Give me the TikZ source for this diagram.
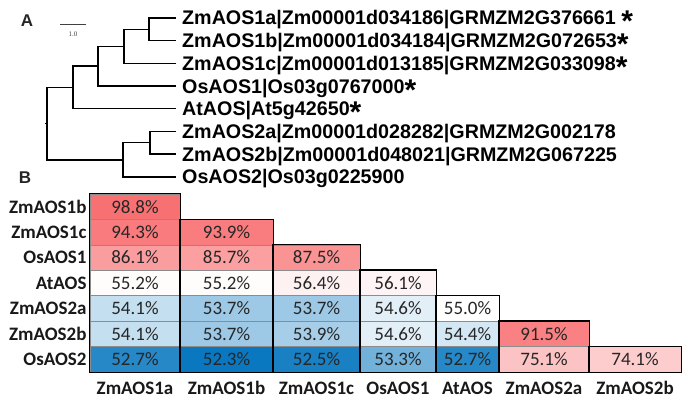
\documentclass[tikz,border=0pt]{standalone}
\usepackage{fontspec}
\usepackage{tikz}
\usetikzlibrary{positioning,calc}
\usepackage{xcolor}
\newfontfamily\treefont{Liberation Sans}
\newfontfamily\tabfont{Carlito}
\newfontfamily\barfont{Liberation Serif}
\definecolor{hmred}{HTML}{F8696B}
\definecolor{hmblue}{HTML}{0A78C0}
\definecolor{txt}{HTML}{262626}
\newcommand\sig{{\fontsize{30}{30}\selectfont\raisebox{-7pt}[0pt][0pt]{*}}}

\begin{document}
\begin{tikzpicture}[x=1pt, y=-1pt,
    br/.style={line width=1.4pt, line cap=rect},
    leaf/.style={anchor=base west, inner sep=0pt, font=\treefont\bfseries\fontsize{19.7}{22}\selectfont},
    panel/.style={inner sep=0pt, text=black!85, font=\treefont\bfseries\fontsize{17}{18}\selectfont},
    cell/.style={draw=black!45, line width=0.5pt, inner sep=0pt, minimum height=25.43pt, text=txt, font=\tabfont\fontsize{19}{20}\selectfont},
    lab/.style={inner sep=0pt, text=black!90, font=\tabfont\bfseries\fontsize{19}{20}\selectfont},
    colbox/.style={line width=1.2pt, draw=black},
  ]
  \useasboundingbox (0,0) rectangle (688,401);

  \node[panel] (pa) at (27,21) {A};
  \node[panel] (pb) at (25,178) {B};

  % scale bar
  \coordinate (sb1) at (60,24);
  \coordinate (sb2) at (86,24);
  \draw[line width=0.8pt, black!75] (sb1) -- (sb2);
  \node[inner sep=0pt, text=black!75, font=\barfont\fontsize{7}{8}\selectfont] (sbl) at (73,34) {1.0};

  % tree
  \foreach \i/\t in {1/{ZmAOS1a|Zm00001d034186|GRMZM2G376661 \sig},
                     2/{ZmAOS1b|Zm00001d034184|GRMZM2G072653\sig},
                     3/{ZmAOS1c|Zm00001d013185|GRMZM2G033098\sig},
                     4/{OsAOS1|Os03g0767000\sig},
                     5/{AtAOS|At5g42650\sig},
                     6/{ZmAOS2a|Zm00001d028282|GRMZM2G002178},
                     7/{ZmAOS2b|Zm00001d048021|GRMZM2G067225},
                     8/{OsAOS2|Os03g0225900}}{
    \pgfmathsetmacro{\ly}{18+22.7*(\i-1)}
    \coordinate (e\i) at (175,\ly);
    \node[leaf] (t\i) at (182,\ly+7) {\t};
  }
  \coordinate (root) at (47,123.7);
  \coordinate (n1) at (73,87.5);
  \coordinate (n2) at (98,66.2);
  \coordinate (n3) at (124,46.4);
  \coordinate (n4) at (149,29.4);
  \coordinate (m1) at (123,159.9);
  \coordinate (m2) at (150,142.8);
  \draw[br] (n4) |- (e1);
  \draw[br] (n4) |- (e2);
  \draw[br] (n3) |- (n4);
  \draw[br] (n3) |- (e3);
  \draw[br] (n2) |- (n3);
  \draw[br] (n2) |- (e4);
  \draw[br] (n1) |- (n2);
  \draw[br] (n1) |- (e5);
  \draw[br] (root) |- (n1);
  \draw[br] (root) |- (m1);
  \draw[br] (m1) |- (m2);
  \draw[br] (m1) |- (e8);
  \draw[br] (m2) |- (e6);
  \draw[br] (m2) |- (e7);
  \draw[line width=1pt] (root) -- ++(-2.5,0);

  % identity matrix
  \foreach \r/\c/\v/\shade in {
      1/1/98.8/hmred!95,
      2/1/94.3/hmred!88, 2/2/93.9/hmred!87,
      3/1/86.1/hmred!65, 3/2/85.7/hmred!64, 3/3/87.5/hmred!72,
      4/1/55.2/hmred!2, 4/2/55.2/hmred!2, 4/3/56.4/hmred!9, 4/4/56.1/hmred!7,
      5/1/54.1/hmblue!24, 5/2/53.7/hmblue!40, 5/3/53.7/hmblue!40, 5/4/54.6/hmblue!12, 5/5/55.0/white,
      6/1/54.1/hmblue!24, 6/2/53.7/hmblue!40, 6/3/53.9/hmblue!36, 6/4/54.6/hmblue!12, 6/5/54.4/hmblue!18, 6/6/91.5/hmred!84,
      7/1/52.7/hmblue!88, 7/2/52.3/hmblue, 7/3/52.5/hmblue!94, 7/4/53.3/hmblue!58, 7/5/52.7/hmblue!88, 7/6/75.1/hmred!40, 7/7/74.1/hmred!33}{
    \pgfmathsetmacro{\cx}{{135,226.5,316.5,398,467.5,544,635}[\c-1]}
    \pgfmathsetmacro{\cw}{{90,93,87,76,63,90,92}[\c-1]}
    \pgfmathsetmacro{\cy}{194+25.43*(\r-0.5)}
    \node[cell, fill=\shade, minimum width=\cw pt] (v\r\c) at (\cx,\cy) {\v\%};
  }
  \foreach \c in {1,...,7}
    \draw[colbox] (v\c\c.north west) rectangle (v7\c.south east);

  \foreach \r/\t in {1/ZmAOS1b, 2/ZmAOS1c, 3/OsAOS1, 4/AtAOS, 5/ZmAOS2a, 6/ZmAOS2b, 7/OsAOS2}
    \node[lab, anchor=east] (r\r) at ($(v\r1.west)+(-3,0)$) {\t};
  \foreach \c/\t in {1/ZmAOS1a, 2/ZmAOS1b, 3/ZmAOS1c, 4/OsAOS1, 5/AtAOS, 6/ZmAOS2a, 7/ZmAOS2b}
    \node[lab] (k\c) at ($(v7\c.south)+(0,16)$) {\t};
\end{tikzpicture}
\end{document}
